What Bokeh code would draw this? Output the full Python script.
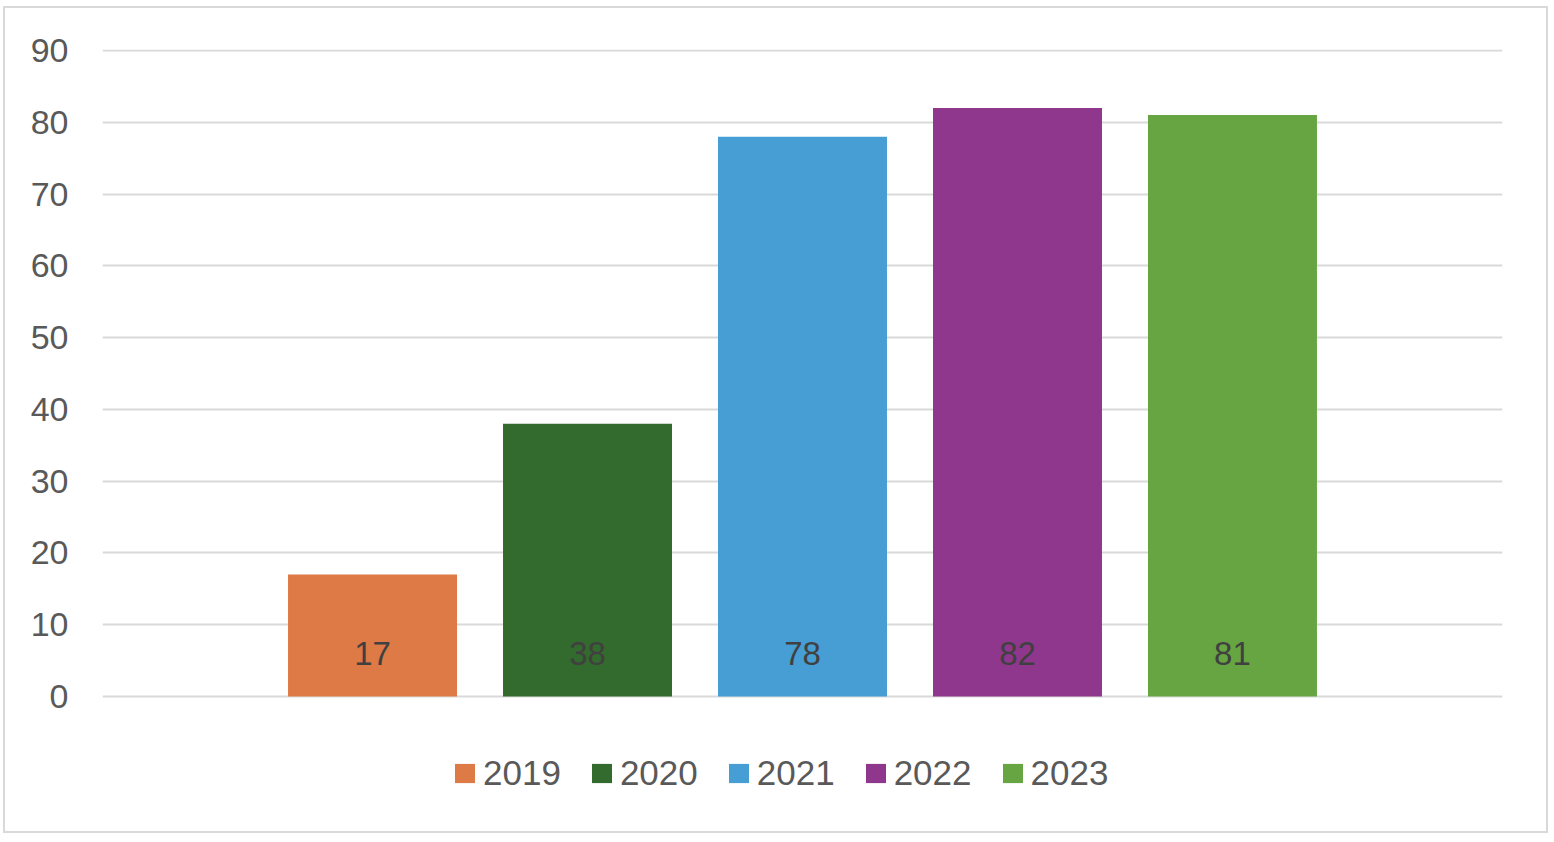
from bokeh.plotting import figure
from bokeh.models import FactorRange, Range1d, ColumnDataSource, Legend, LegendItem, FixedTicker, LabelSet
from bokeh.embed import file_html
from bokeh.resources import INLINE
from bokeh.core.properties import value

years = ["2019", "2020", "2021", "2022", "2023"]
values = [17, 38, 78, 82, 81]
colors = ["#DD7A45", "#336A2D", "#469ED4", "#8F378D", "#67A542"]
labels = [str(v) for v in values]
y_ticks = [0, 10, 20, 30, 40, 50, 60, 70, 80, 90]

FONT = "Liberation Sans"

src = ColumnDataSource(dict(year=years, val=values, color=colors, label=labels, base=[0] * len(years)))

# frame extends below the value axis to hold the legend (value 0 -> 135px above frame bottom)
p = figure(
    frame_width=1400, frame_height=782,
    x_range=FactorRange(factors=years, range_padding=0.756, range_padding_units="absolute"),
    y_range=Range1d(-18.81, 90.14),
    output_backend="svg", toolbar_location=None,
    min_border_left=97, min_border_right=44, min_border_top=41, min_border_bottom=0,
)
p.styles = {"border": "2px solid #d9d9d9", "margin-left": "3px", "margin-top": "6px"}
p.outline_line_color = None
p.background_fill_color = "white"
p.border_fill_color = "white"

r = p.vbar(x="year", top="val", width=0.786, source=src, fill_color="color", line_color=None)

labs = LabelSet(x="year", y="base", text="label", source=src, text_align="center",
                text_baseline="alphabetic", y_offset=31, text_color="#404040",
                text_font=value(FONT), text_font_size="33px")
p.add_layout(labs)

p.xaxis.visible = False
p.xgrid.grid_line_color = None
p.ygrid.grid_line_color = "#d9d9d9"
p.ygrid.grid_line_width = 2
p.yaxis.ticker = FixedTicker(ticks=y_ticks)
p.ygrid.ticker = FixedTicker(ticks=y_ticks)
p.yaxis.axis_line_color = None
p.yaxis.major_tick_line_color = None
p.yaxis.minor_tick_line_color = None
p.yaxis.major_tick_in = 0
p.yaxis.major_tick_out = 0
p.yaxis.major_label_standoff = 34
p.yaxis.major_label_text_font = FONT
p.yaxis.major_label_text_font_size = "34px"
p.yaxis.major_label_text_color = "#595959"

items = [LegendItem(label=y, renderers=[r], index=i) for i, y in enumerate(years)]
legend = Legend(items=items, orientation="horizontal", location=(350, 38),
                glyph_width=25, glyph_height=24, label_standoff=6, spacing=28,
                label_text_font=FONT, label_text_font_size="35px", label_text_color="#595959",
                border_line_color=None, background_fill_alpha=0, padding=0, margin=0)
p.add_layout(legend, "center")

open("out.html", "w").write(file_html(p, INLINE))
